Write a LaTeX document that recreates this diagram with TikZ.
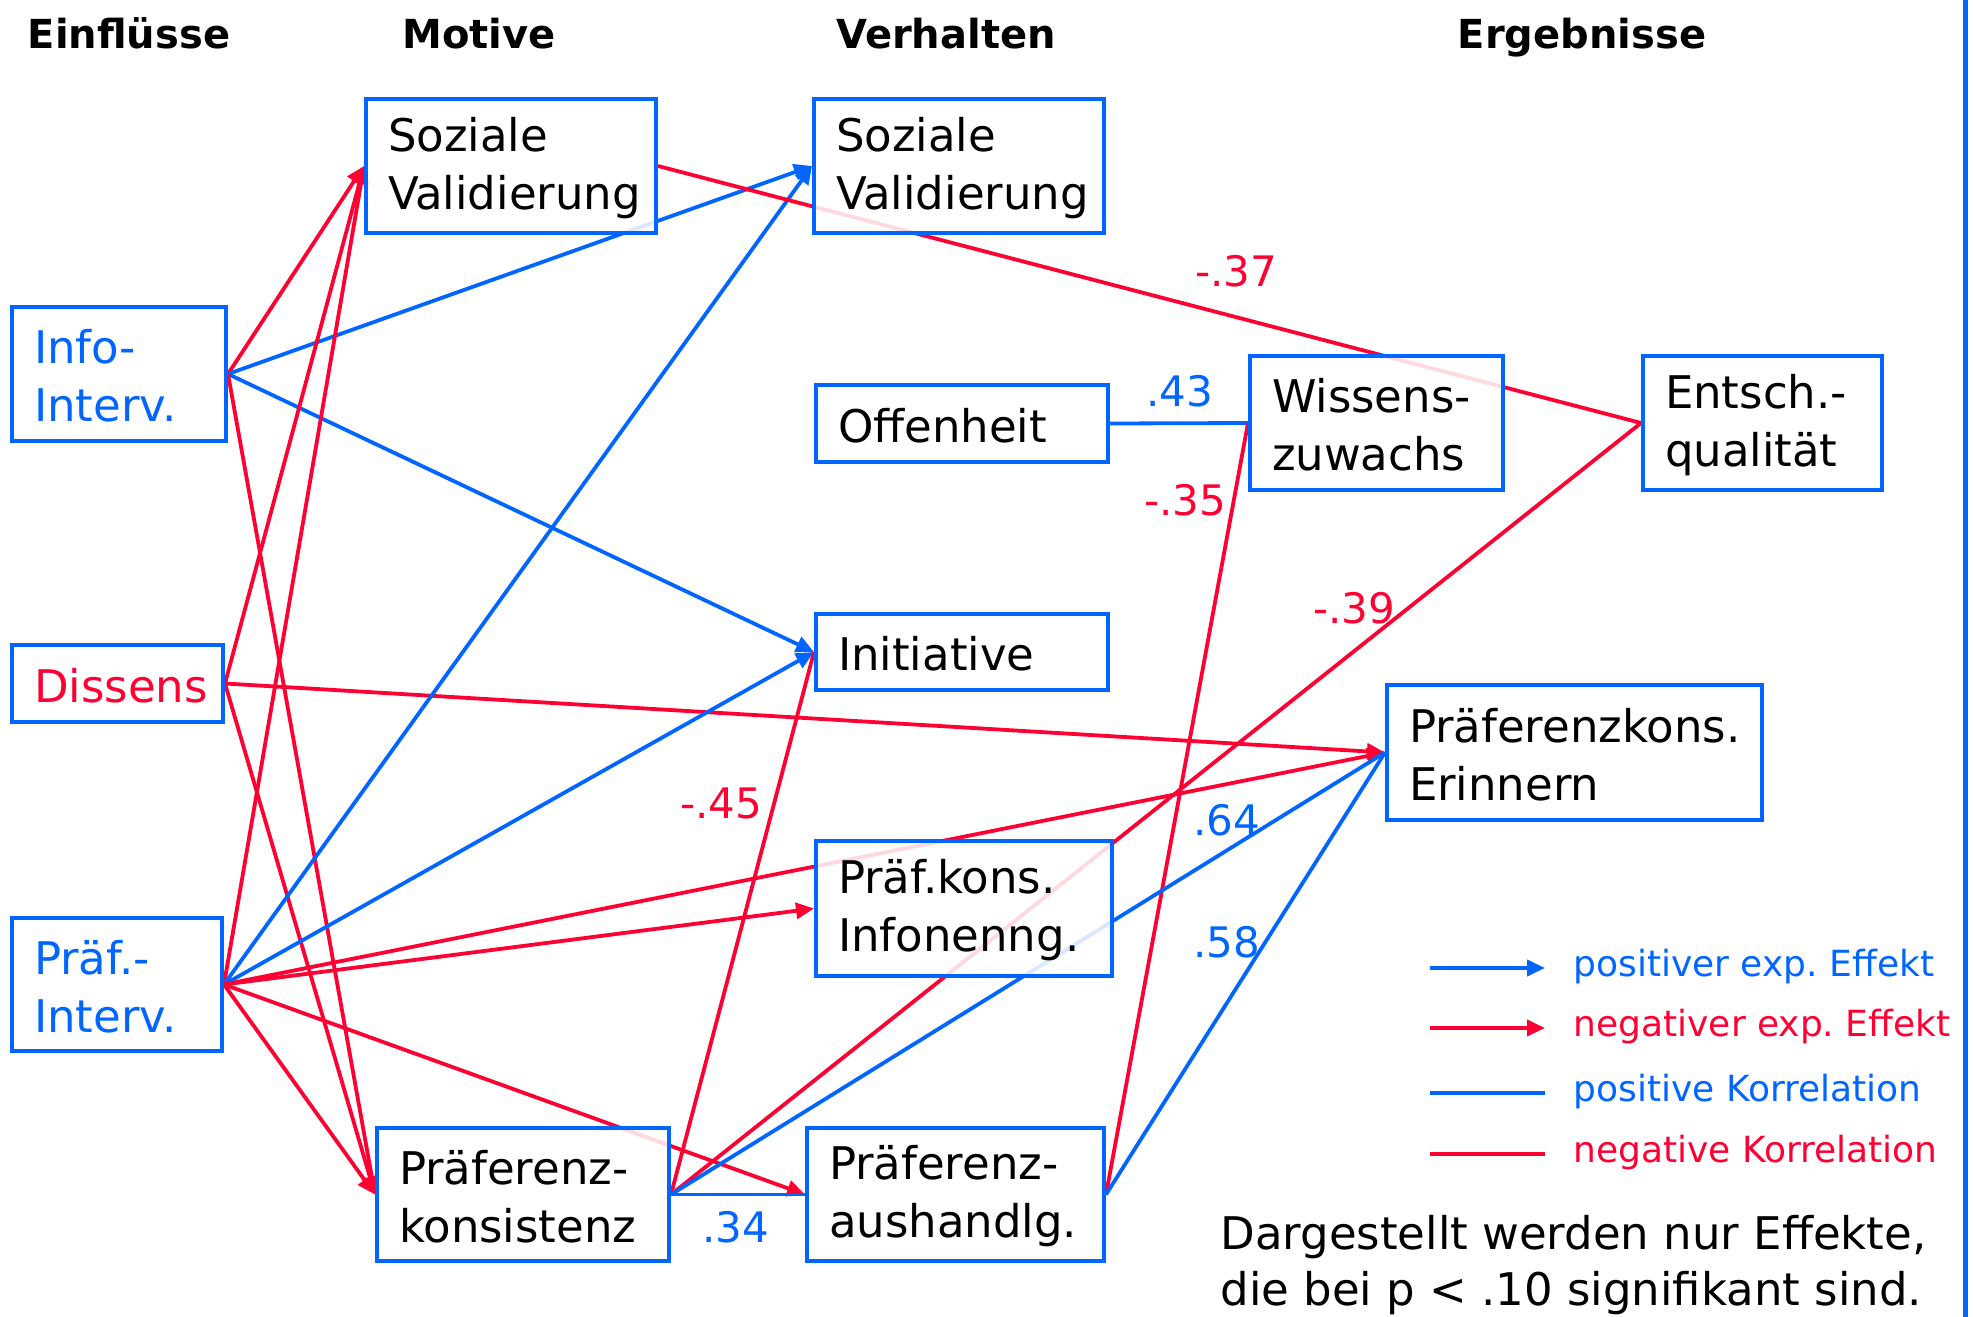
\documentclass[tikz,border=0pt]{standalone}
\usepackage{fontspec}
\setmainfont{DejaVu Sans}
\usetikzlibrary{arrows.meta,backgrounds}
\definecolor{cblue}{RGB}{0,102,255}
\definecolor{cred}{RGB}{255,0,51}
\frenchspacing
\tikzset{
  box/.style={draw=cblue, line width=4pt, fill=white, fill opacity=0.85, text opacity=1,
    inner xsep=22pt, inner ysep=0pt, align=left, anchor=center, text height=38pt,
    font=\fontsize{45}{58}\selectfont},
  arrtip/.style={-{Triangle[length=18pt,width=16pt]}},
  poseff/.style={draw=cblue, line width=3.8pt, arrtip},
  negeff/.style={draw=cred, line width=3.8pt, arrtip},
  poscorr/.style={draw=cblue, line width=3.8pt},
  negcorr/.style={draw=cred, line width=3.8pt},
  headtext/.style={font=\fontsize{40}{48}\selectfont\bfseries, anchor=base},
  coeflab/.style={font=\fontsize{42}{50}\selectfont},
  legtext/.style={font=\fontsize{36}{44}\selectfont, anchor=base west},
  notetext/.style={font=\fontsize{45}{58}\selectfont, anchor=base west},
}
\begin{document}
\begin{tikzpicture}[x=1pt,y=-1pt]
\useasboundingbox (0,0) rectangle (1973,1317);

% headings
\node[headtext] (h1) at (129,48) {Einflüsse};
\node[headtext] (h2) at (479,48) {Motive};
\node[headtext] (h3) at (946,48) {Verhalten};
\node[headtext] (h4) at (1582,48) {Ergebnisse};

% boxes
\node[box, text width=246pt, minimum height=134pt] (smot) at (511,166) {Soziale\\Validierung};
\node[box, text width=246pt, minimum height=134pt] (sver) at (959,166) {Soziale\\Validierung};
\node[box, text width=170pt, minimum height=134pt, text=cblue] (info) at (119,374) {Info-\\Interv.};
\node[box, text width=167pt, minimum height=77pt, text=cred] (diss) at (117.5,683.5) {Dissens};
\node[box, text width=166pt, minimum height=133pt, text=cblue] (pint) at (117,984.5) {Präf.-\\Interv.};
\node[box, text width=248pt, minimum height=133pt] (pkon) at (523,1194.5) {Präferenz-\\konsistenz};
\node[box, text width=253pt, minimum height=133pt] (paus) at (955.5,1194.5) {Präferenz-\\aushandlg.};
\node[box, text width=248pt, minimum height=77pt] (offen) at (962,423.5) {Offenheit};
\node[box, text width=248pt, minimum height=76pt] (init) at (962,652) {Initiative};
\node[box, text width=252pt, minimum height=135pt] (pinfo) at (964,908.5) {Präf.kons.\\Infonenng.};
\node[box, text width=209pt, minimum height=134pt] (wiss) at (1376.5,423) {Wissens-\\zuwachs};
\node[box, text width=195pt, minimum height=134pt] (ents) at (1762.5,423) {Entsch.-\\qualität};
\node[box, text width=331pt, minimum height=135pt] (perin) at (1574.5,752.5) {Präferenzkons.\\Erinnern};

% connectors (behind the boxes)
\begin{scope}[on background layer]
\fill[white] (0,0) rectangle (1973,1317);
\draw[negeff] (info.east) -- (smot.west);
\draw[poseff] (info.east) -- (sver.west);
\draw[poseff] (info.east) -- (init.west);
\draw[negeff] (info.east) -- (pkon.west);
\draw[negeff] (diss.east) -- (smot.west);
\draw[negeff] (diss.east) -- (perin.west);
\draw[negeff] (diss.east) -- (pkon.west);
\draw[negeff] (pint.east) -- (smot.west);
\draw[poseff] (pint.east) -- (sver.west);
\draw[poseff] (pint.east) -- (init.west);
\draw[negeff] (pint.east) -- (perin.west);
\draw[negeff] (pint.east) -- (pinfo.west);
\draw[negeff] (pint.east) -- (paus.west);
\draw[negeff] (pint.east) -- (pkon.west);
\draw[negcorr] (smot.east) -- (ents.west);
\draw[poscorr] (offen.east) -- (wiss.west);
\draw[negcorr] (paus.east) -- (wiss.west);
\draw[poscorr] (paus.east) -- (perin.west);
\draw[negcorr] (pkon.east) -- (init.west);
\draw[negcorr] (pkon.east) -- (ents.west);
\draw[poscorr] (pkon.east) -- (perin.west);
\draw[poscorr] (pkon.east) -- (paus.west);
\end{scope}

% coefficient labels
\node[coeflab, text=cred] (c37) at (1236,271) {-.37};
\node[coeflab, text=cblue] (c43) at (1180,391) {.43};
\node[coeflab, text=cred] (c35) at (1185,500) {-.35};
\node[coeflab, text=cred] (c39) at (1354,608) {-.39};
\node[coeflab, text=cred] (c45) at (721,803) {-.45};
\node[coeflab, text=cblue] (c64) at (1227,820) {.64};
\node[coeflab, text=cblue] (c58) at (1227,942) {.58};
\node[coeflab, text=cblue] (c34) at (736,1227) {.34};

% legend
\coordinate (la1) at (1430,968); \coordinate (lb1) at (1545,968);
\coordinate (la2) at (1430,1028); \coordinate (lb2) at (1545,1028);
\coordinate (la3) at (1430,1093); \coordinate (lb3) at (1545,1093);
\coordinate (la4) at (1430,1154); \coordinate (lb4) at (1545,1154);
\draw[poseff, line width=4pt] (la1) -- (lb1);
\draw[negeff, line width=4pt] (la2) -- (lb2);
\draw[poscorr, line width=4pt] (la3) -- (lb3);
\draw[negcorr, line width=4pt] (la4) -- (lb4);
\node[legtext, text=cblue] (lt1) at (1570,976) {positiver exp. Effekt};
\node[legtext, text=cred] (lt2) at (1570,1036) {negativer exp. Effekt};
\node[legtext, text=cblue] (lt3) at (1570,1101) {positive Korrelation};
\node[legtext, text=cred] (lt4) at (1570,1162) {negative Korrelation};

% note
\node[notetext] (n1) at (1217,1249) {Dargestellt werden nur Effekte,};
\node[notetext] (n2) at (1217,1305) {die bei p < .10 signifikant sind.};

% right border line
\coordinate (rt) at (1965,0); \coordinate (rb) at (1965,1317);
\draw[cblue, line width=5pt] (rt) -- (rb);
\end{tikzpicture}
\end{document}
